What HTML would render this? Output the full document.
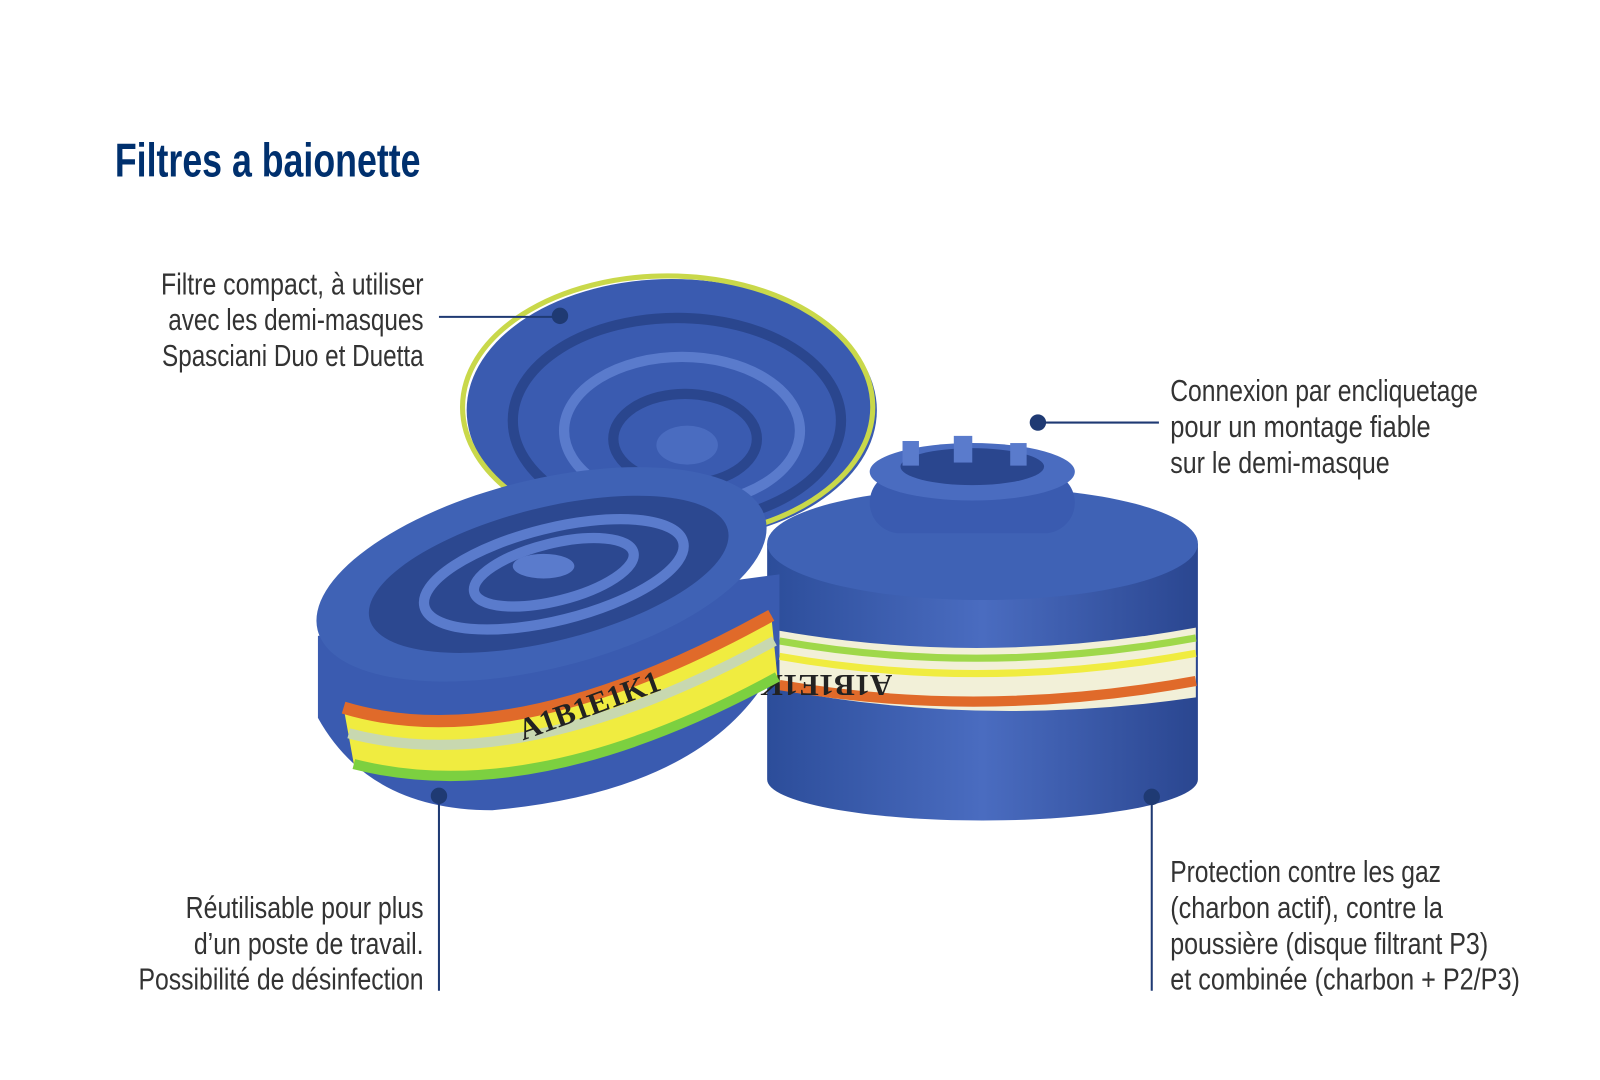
<!DOCTYPE html>
<html><head><meta charset="utf-8"><style>
html,body{margin:0;padding:0;background:#fff;}
svg{display:block}
.t{font-family:"Liberation Sans Narrow","Liberation Sans",sans-serif;font-size:30px;fill:#333;}
</style></head><body>
<svg width="1600" height="1080" viewBox="0 0 1600 1080" xmlns="http://www.w3.org/2000/svg">
<defs>
<linearGradient id="bl" x1="0" x2="1"><stop offset="0" stop-color="#2c4d9a"/><stop offset=".5" stop-color="#4a6cc0"/><stop offset="1" stop-color="#2a4690"/></linearGradient>
</defs>
<g transform="scale(1.0256)">
<text x="112" y="172" font-family="Liberation Sans Narrow,Liberation Sans,sans-serif" font-weight="bold" font-size="46" fill="#00306e" textLength="298" lengthAdjust="spacingAndGlyphs">Filtres a baionette</text>

<!-- back filter -->
<ellipse cx="655" cy="400" rx="200" ry="128" fill="#3a5bb0"/>
<ellipse cx="655" cy="400" rx="200" ry="128" fill="none" stroke="#c9d84a" stroke-width="5" transform="translate(-4,-3)"/>
<ellipse cx="660" cy="410" rx="160" ry="100" fill="none" stroke="#2a468e" stroke-width="10"/>
<ellipse cx="665" cy="420" rx="115" ry="72" fill="none" stroke="#5a7bcc" stroke-width="10"/>
<ellipse cx="668" cy="428" rx="70" ry="44" fill="none" stroke="#2a468e" stroke-width="10"/>
<ellipse cx="670" cy="434" rx="30" ry="19" fill="#4a6cc0"/>

<!-- right filter -->
<path d="M748 530 L748 760 A210 40 0 0 0 1168 760 L1168 530 Z" fill="url(#bl)"/>
<ellipse cx="958" cy="530" rx="210" ry="55" fill="#3f62b5"/>
<path d="M760 615 Q958 650 1166 612 L1166 680 Q958 710 760 672 Z" fill="#f2f0d8"/>
<path d="M760 625 Q958 660 1166 622" stroke="#9fd84a" stroke-width="7" fill="none"/>
<path d="M760 640 Q958 675 1166 637" stroke="#f0ec40" stroke-width="7" fill="none"/>
<path d="M760 668 Q958 702 1166 664" stroke="#e06a2a" stroke-width="10" fill="none"/>
<text x="1050" y="690" font-family="Liberation Serif,serif" font-weight="bold" font-size="30" fill="#222" transform="rotate(180 960 674)">A1B1E1K1P3</text>
<rect x="848" y="460" width="200" height="60" rx="30" fill="#3a5bb0"/>
<ellipse cx="948" cy="460" rx="100" ry="28" fill="#4a6cc0"/>
<ellipse cx="948" cy="455" rx="70" ry="18" fill="#2a468e"/>
<rect x="880" y="430" width="16" height="24" fill="#5a7bcc"/><rect x="930" y="425" width="18" height="26" fill="#5a7bcc"/><rect x="985" y="432" width="16" height="22" fill="#5a7bcc"/>

<!-- left filter -->
<path d="M310 620 L310 700 Q360 790 480 790 Q700 770 760 640 L760 560 Z" fill="#3a5bb0"/>
<path d="M335 690 Q500 740 752 600 L758 660 Q520 790 345 745 Z" fill="#f0ec40"/>
<path d="M335 690 Q500 740 752 600" stroke="#e06a2a" stroke-width="12" fill="none"/>
<path d="M340 715 Q510 760 755 625" stroke="#c8d8b0" stroke-width="10" fill="none"/>
<path d="M345 745 Q520 790 758 660" stroke="#7cd040" stroke-width="10" fill="none"/>
<text x="510" y="722" font-family="Liberation Serif,serif" font-weight="bold" font-size="30" fill="#222" transform="rotate(-20 510 722)">A1B1E1K1</text>
<ellipse cx="528" cy="560" rx="225" ry="92" transform="rotate(-14 528 560)" fill="#3f62b5"/>
<ellipse cx="535" cy="560" rx="180" ry="65" transform="rotate(-14 535 560)" fill="#2c4890"/>
<ellipse cx="540" cy="560" rx="130" ry="45" transform="rotate(-14 540 560)" fill="none" stroke="#5a7bcc" stroke-width="10"/>
<ellipse cx="540" cy="558" rx="80" ry="28" transform="rotate(-14 540 558)" fill="none" stroke="#5a7bcc" stroke-width="10"/>
<ellipse cx="530" cy="552" rx="30" ry="12" fill="#5a7bcc"/>

<!-- connectors -->
<g stroke="#1f3a73" stroke-width="2" fill="none">
<line x1="428" y1="309" x2="546" y2="309"/>
<line x1="1012" y1="412" x2="1130" y2="412"/>
<line x1="428" y1="776" x2="428" y2="966"/>
<line x1="1123" y1="777" x2="1123" y2="966"/>
</g>
<g fill="#1f3a73">
<circle cx="546" cy="308" r="8"/><circle cx="1012" cy="412" r="8"/><circle cx="428" cy="776" r="8"/><circle cx="1123" cy="777" r="8"/>
</g>

<g class="t" text-anchor="end">
<text x="413" y="287" textLength="256" lengthAdjust="spacingAndGlyphs">Filtre compact, à utiliser</text>
<text x="413" y="322" textLength="249" lengthAdjust="spacingAndGlyphs">avec les demi-masques</text>
<text x="413" y="357" textLength="255" lengthAdjust="spacingAndGlyphs">Spasciani Duo et Duetta</text>
<text x="413" y="895" textLength="232" lengthAdjust="spacingAndGlyphs">Réutilisable pour plus</text>
<text x="413" y="930" textLength="224" lengthAdjust="spacingAndGlyphs">d’un poste de travail.</text>
<text x="413" y="965" textLength="278" lengthAdjust="spacingAndGlyphs">Possibilité de désinfection</text>
</g>
<g class="t">
<text x="1141" y="391" textLength="300" lengthAdjust="spacingAndGlyphs">Connexion par encliquetage</text>
<text x="1141" y="426" textLength="254" lengthAdjust="spacingAndGlyphs">pour un montage fiable</text>
<text x="1141" y="461" textLength="214" lengthAdjust="spacingAndGlyphs">sur le demi-masque</text>
<text x="1141" y="860" textLength="264" lengthAdjust="spacingAndGlyphs">Protection contre les gaz</text>
<text x="1141" y="895" textLength="266" lengthAdjust="spacingAndGlyphs">(charbon actif), contre la</text>
<text x="1141" y="930" textLength="310" lengthAdjust="spacingAndGlyphs">poussière (disque filtrant P3)</text>
<text x="1141" y="965" textLength="341" lengthAdjust="spacingAndGlyphs">et combinée (charbon + P2/P3)</text>
</g>
</g>
</svg>
</body></html>
